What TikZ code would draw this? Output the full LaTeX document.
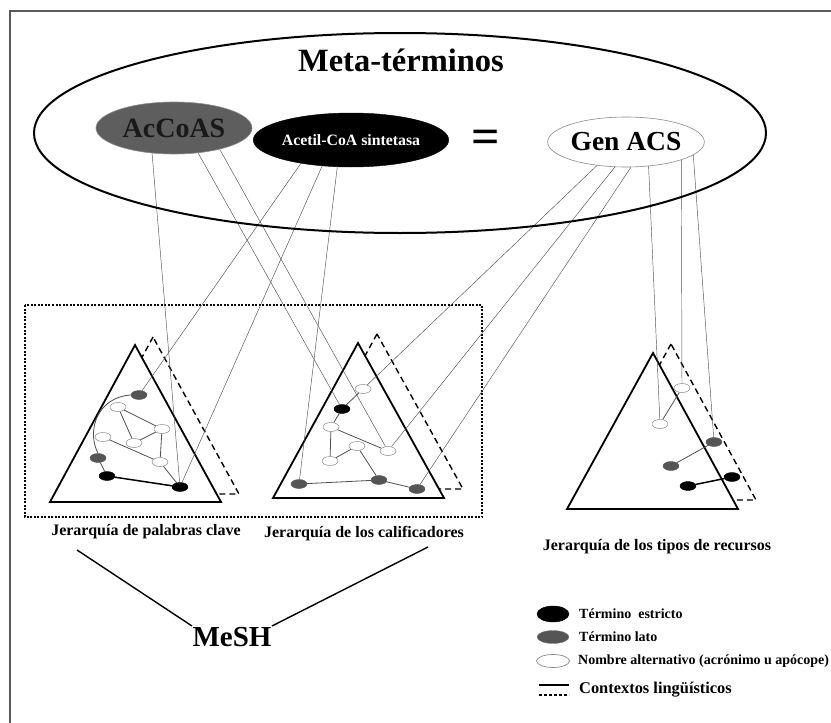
\documentclass[tikz,border=0pt]{standalone}
\usepackage{fontspec}
\setmainfont{Liberation Serif}
\usetikzlibrary{shapes.geometric}
\definecolor{dg}{HTML}{555555}
\definecolor{bordg}{HTML}{8A8A8A}
\definecolor{connc}{HTML}{505050}
\definecolor{acfill}{HTML}{5E5E5E}
\pgfdeclarelayer{bg}
\pgfsetlayers{bg,main}
\begin{document}
\begin{tikzpicture}[x=1pt,y=-1pt,
  sn/.style={ellipse,minimum width=16pt,minimum height=9pt,inner sep=0pt},
  blk/.style={sn,fill=black,draw=black},
  dgr/.style={sn,fill=dg,draw=dg},
  wht/.style={sn,fill=white,draw=bordg,line width=0.5pt},
  tri/.style={draw=black,line width=1.8pt,fill=white,line join=miter},
  dtri/.style={draw=black,line width=1.4pt,dash pattern=on 6pt off 4pt},
  connl/.style={draw=connc,line width=0.45pt},
  ie/.style={draw=connc,line width=0.8pt},
  thk/.style={draw=black,line width=1.5pt},
  lbl/.style={font=\fontsize{16}{18}\selectfont\bfseries,inner sep=0pt},
  lgt/.style={font=\fontsize{14}{16}\selectfont\bfseries,inner sep=0pt,anchor=west},
  bigell/.style={ellipse,inner sep=0pt,minimum width=156pt,minimum height=52pt}
]
\useasboundingbox (0,0) rectangle (831,723);

% top ellipse and meta-terms
\node[ellipse,draw=black,line width=2pt,minimum width=732pt,minimum height=200pt,inner sep=0pt] (meta) at (400,133) {};
\node[font=\fontsize{32.5}{34}\selectfont\bfseries,inner sep=0pt] (title) at (401,60) {Meta-términos};
\node[bigell,fill=acfill,draw=bordg,line width=0.6pt,font=\fontsize{28}{30}\selectfont\bfseries,text=black!90] (ac) at (174,128) {AcCoAS};
\node[bigell,fill=black,draw=black,minimum height=54pt,font=\fontsize{15.8}{17}\selectfont\bfseries,text=white] (acs) at (351,140) {Acetil-CoA sintetasa};
\node[font=\fontsize{50}{52}\selectfont\bfseries,inner sep=0pt] (eq) at (486,142) {=};
\node[bigell,fill=white,draw=bordg,line width=0.6pt,minimum height=50pt,font=\fontsize{27.5}{29}\selectfont\bfseries] (gen) at (626,142) {Gen ACS};

% triangle 1 nodes (palabras clave)
\node[dgr] (kdg1) at (139,395) {};
\node[wht] (kwa) at (118,407) {};
\node[wht] (kwb) at (162,429) {};
\node[wht] (kwc) at (103,437) {};
\node[wht] (kwd) at (134,443) {};
\node[wht] (kwe) at (160,462) {};
\node[dgr] (kdg2) at (98,458) {};
\node[blk] (kb1) at (107,476) {};
\node[blk] (kb2) at (180,487) {};

% triangle 2 nodes (calificadores)
\node[wht] (qw1) at (363,389) {};
\node[blk] (qb) at (342,409) {};
\node[wht] (qw2) at (331,427) {};
\node[wht] (qw3) at (357,446) {};
\node[wht] (qw4) at (388,451) {};
\node[wht] (qw5) at (330,461) {};
\node[dgr] (qdg1) at (299,484) {};
\node[dgr] (qdg2) at (379,480) {};
\node[dgr] (qdg3) at (417,489) {};

% triangle 3 nodes (tipos de recursos)
\node[wht] (rw1) at (682,388) {};
\node[wht] (rw2) at (660,424) {};
\node[dgr] (rdg1) at (714,442) {};
\node[dgr] (rdg2) at (671,466) {};
\node[blk] (rb1) at (732,477) {};
\node[blk] (rb2) at (688,486) {};

\begin{pgfonlayer}{bg}
  \fill[white] (0,0) rectangle (831,723);
  \draw[gray!70!black,line width=1.2pt] (10,723) -- (10,11) -- (831,11);
  \draw[line width=1.1pt,dash pattern=on 2pt off 1.5pt] (25,305) rectangle (482,517);
  \draw[dtri] (153,337) -- (68,494) -- (239,494) -- cycle;
  \draw[dtri] (377,334) -- (292,489) -- (463,489) -- cycle;
  \draw[dtri] (671,344) -- (585,500) -- (756,500) -- cycle;
  \draw[tri] (135,345) -- (50,502) -- (221,502) -- cycle;
  \draw[tri] (358,343) -- (273,498) -- (444,498) -- cycle;
  \draw[tri] (653,353) -- (567,509) -- (738,509) -- cycle;
  % inner edges 1
  \draw[ie] (kdg1.west) .. controls (98,397) and (86,430) .. (kdg2.north);
  \draw[ie] (kwa) -- (kwd);
  \draw[ie] (kwa) -- (kwb);
  \draw[ie] (kwb) -- (kwd);
  \draw[ie] (kwc) -- (kwe);
  \draw[ie] (kwb) -- (kwe);
  \draw[ie] (kwe) -- (kb2);
  \draw[ie] (kdg2) -- (kb1);
  \draw[thk] (kb1) -- (kb2);
  % inner edges 2
  \draw[ie] (qw1) -- (qb);
  \draw[ie] (qb) -- (qw2);
  \draw[ie] (qw2) -- (qw4);
  \draw[ie] (qw2) -- (qw5);
  \draw[ie] (qw3) -- (qw5);
  \draw[ie] (qw3) -- (qdg2);
  \draw[ie] (qdg1) -- (qdg2);
  \draw[ie] (qdg2) -- (qdg3);
  % inner edges 3
  \draw[ie] (rw1) -- (rw2);
  \draw[ie] (rdg1) -- (rdg2);
  \draw[thk] (rb1) -- (rb2);
  % connectors
  \draw[connl] (ac.229) -- (kb2);
  \draw[connl] (ac.314) -- (qb);
  \draw[connl] (ac.335) -- (qw4);
  \draw[connl] (acs.205) -- (kdg1);
  \draw[connl] (acs.222) -- (kb2);
  \draw[connl] (acs.243) -- (qdg1);
  \draw[connl] (gen.219) -- (qw1);
  \draw[connl] (gen.246) -- (qw4);
  \draw[connl] (gen.281) -- (qdg3);
  \draw[connl] (gen.313) -- (rw2);
  \draw[connl] (gen.342) -- (rw1);
  \draw[connl] (gen.349) -- (rdg1);
\end{pgfonlayer}

% labels
\node[lbl] (lk) at (146,532) {Jerarquía de palabras clave};
\node[lbl] (lq) at (364,534) {Jerarquía de los calificadores};
\node[lbl] (lr) at (657,547) {Jerarquía de los tipos de recursos};
\node[font=\fontsize{29}{31}\selectfont\bfseries,inner sep=0pt] (mesh) at (232,637) {MeSH};
\coordinate (m1) at (77,550);
\coordinate (m2) at (192,626);
\coordinate (m3) at (428,547);
\coordinate (m4) at (272,626);
\draw[line width=1.4pt] (m1) -- (m2);
\draw[line width=1.4pt] (m3) -- (m4);

% legend
\node[blk,minimum width=32pt,minimum height=16pt] (lg1) at (553,614) {};
\node[dgr,draw=gray,minimum width=32pt,minimum height=13pt] (lg2) at (553,637) {};
\node[wht,minimum width=33pt,minimum height=13pt,line width=0.7pt] (lg3) at (553,661) {};
\node[lgt] (t1) at (579,614) {Término\ \ estricto};
\node[lgt] (t2) at (579,637) {Término lato};
\node[lgt] (t3) at (578,661) {Nombre alternativo (acrónimo u apócope)};
\coordinate (l1) at (539,685);
\coordinate (l2) at (569,685);
\coordinate (l3) at (539,695);
\coordinate (l4) at (569,695);
\draw[line width=1.5pt] (l1) -- (l2);
\draw[line width=1.3pt,dash pattern=on 3pt off 2pt] (l3) -- (l4);
\node[lgt,font=\fontsize{16.4}{18}\selectfont\bfseries] (t4) at (579,690) {Contextos lingüísticos};
\end{tikzpicture}
\end{document}
